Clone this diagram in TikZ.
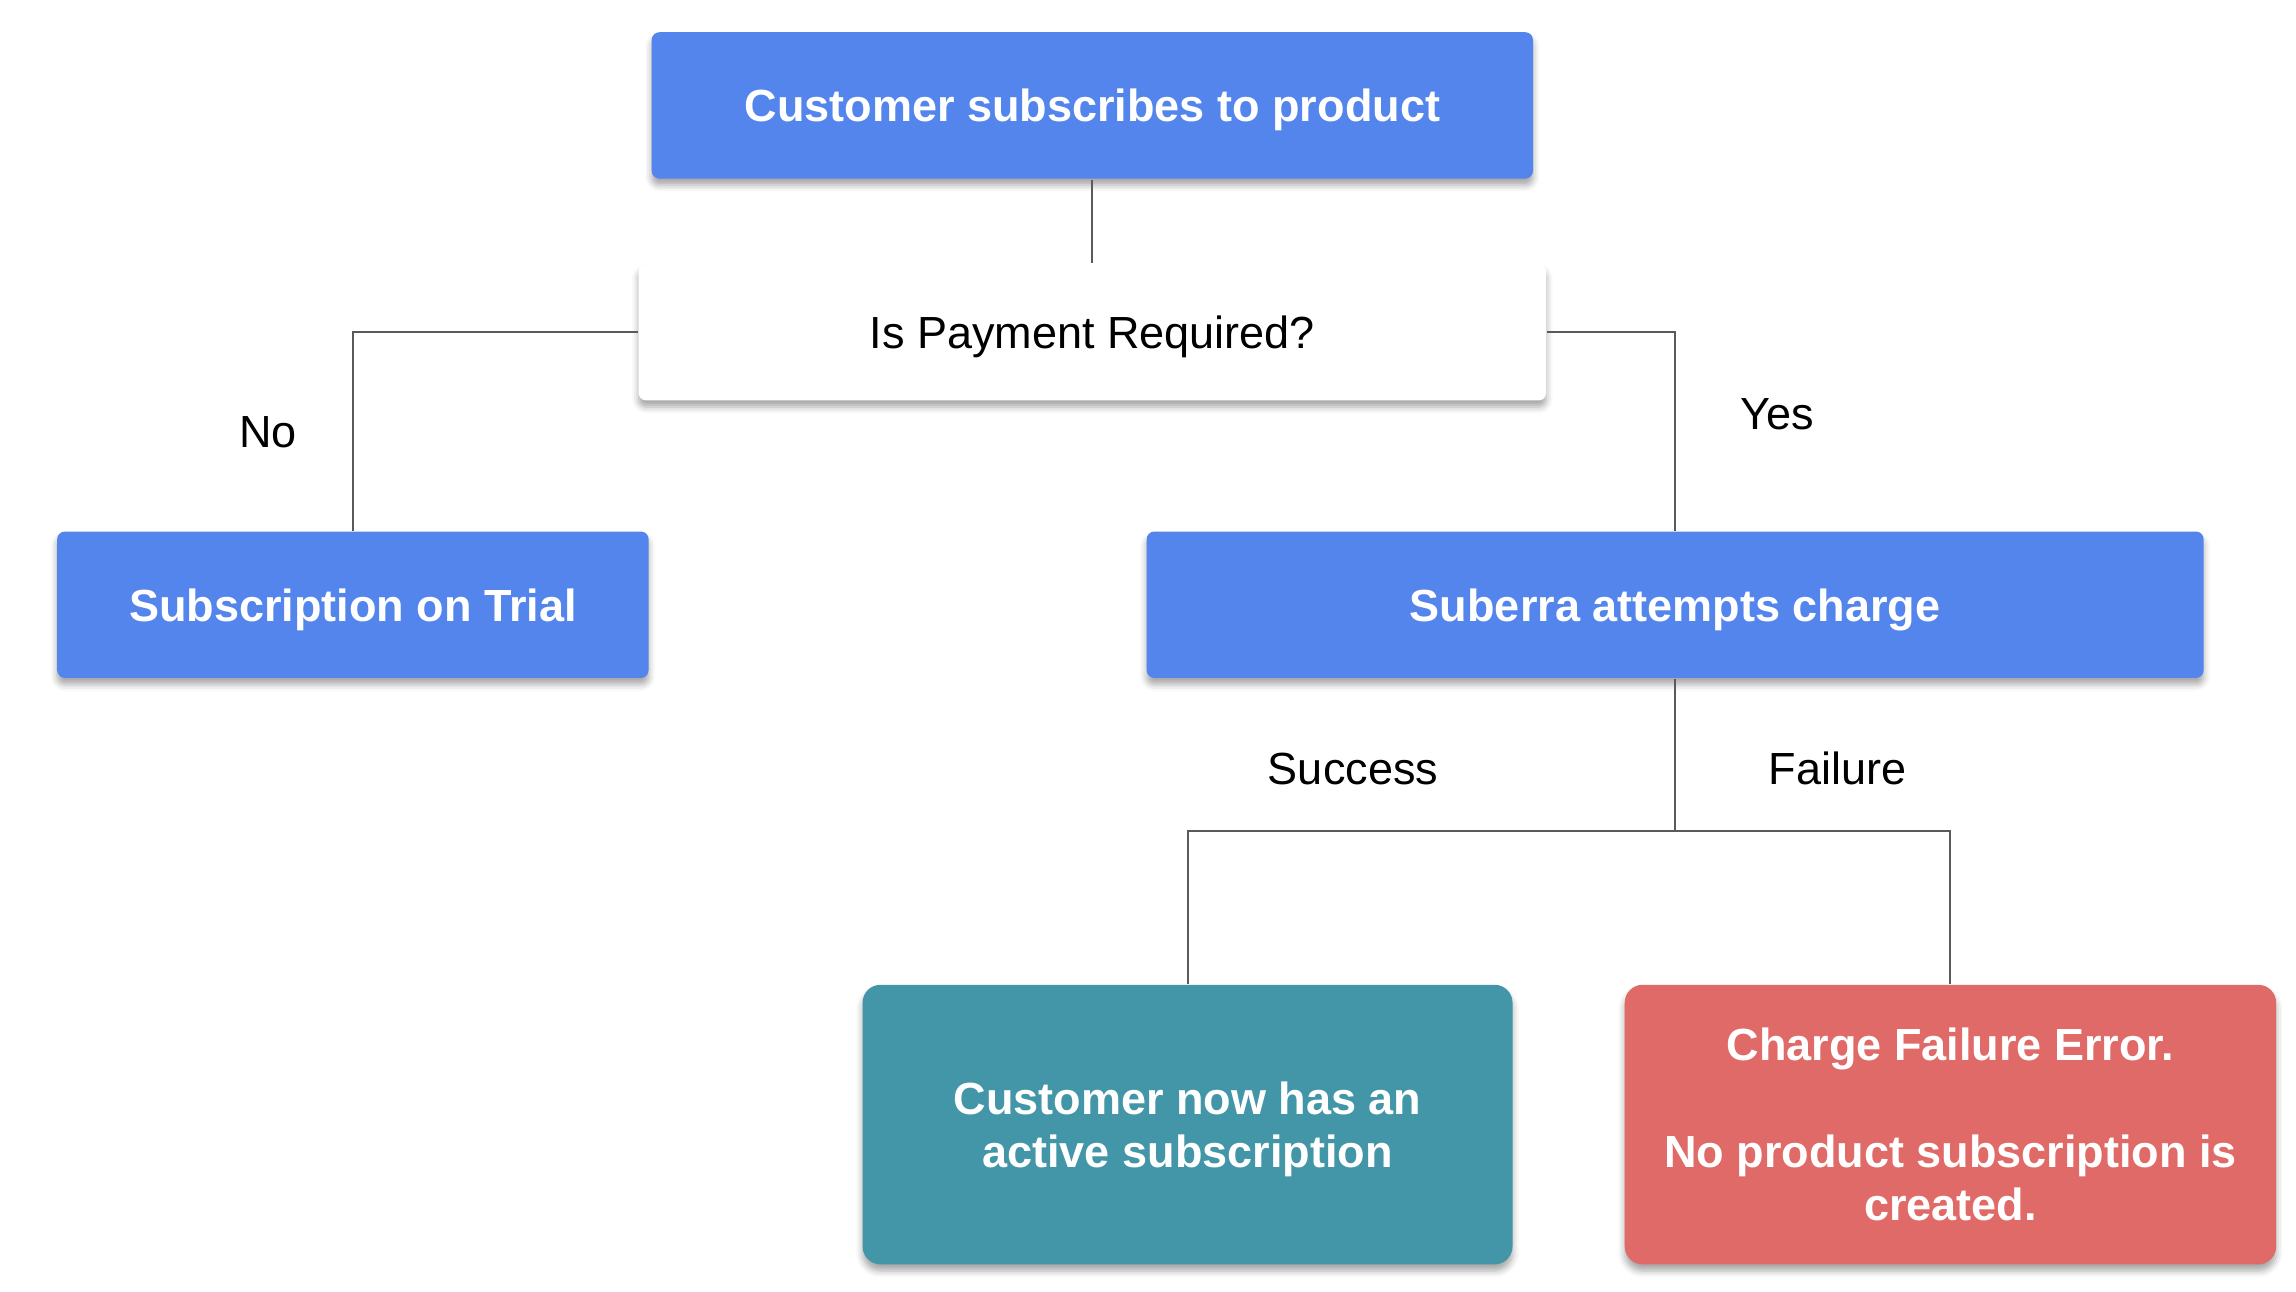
\documentclass[tikz,border=0pt]{standalone}
\usepackage{fontspec}
\setmainfont{Liberation Sans}
\usetikzlibrary{shadows.blur}
\definecolor{boxblue}{HTML}{5385EC}
\definecolor{boxteal}{HTML}{4396A7}
\definecolor{boxred}{HTML}{E06A67}
\definecolor{linegray}{HTML}{5A5A5A}
\tikzset{every path/.style={line width=0.75pt}}
\tikzset{
  card/.style={rounded corners=3pt, inner sep=0pt, align=center,
    font=\fontsize{17.5}{20.7}\selectfont,
    blur shadow={shadow xshift=0pt, shadow yshift=-2.5pt, shadow blur radius=2.5pt, shadow opacity=35}},
  bluecard/.style={card, fill=boxblue, text=white, text depth=0pt, font=\fontsize{17.5}{20.7}\selectfont\bfseries},
  endcard/.style={card, rounded corners=7pt, text=white, font=\fontsize{17.5}{20.7}\selectfont\bfseries},
  lbl/.style={font=\fontsize{17.5}{20.7}\selectfont, inner sep=0pt},
  link/.style={draw=linegray}
}

\begin{document}
\begin{tikzpicture}[x=0.02cm,y=-0.02cm]
\useasboundingbox (0,0) rectangle (1568,882);
\node[bluecard, minimum width=12.04cm, minimum height=2cm] (start) at (746,72) {Customer subscribes to product};
\node[card, fill=white, text depth=0pt, minimum width=12.4cm, minimum height=1.86cm] (ask) at (746,227) {Is Payment Required?};
\node[bluecard, minimum width=8.08cm, minimum height=2cm] (trial) at (241,413) {Subscription on Trial};
\node[bluecard, minimum width=14.44cm, minimum height=2cm] (charge) at (1144,413) {Suberra attempts charge};
\node[endcard, fill=boxteal, text depth=0pt, minimum width=8.88cm, minimum height=3.82cm] (active) at (811,768) {Customer now has an\\active subscription};
\node[endcard, fill=boxred, minimum width=8.9cm, minimum height=3.82cm] (fail) at (1332,768) {Charge Failure Error.\\[20.7pt]No product subscription is\\created.};
%\node at (746,150) {};
\draw[link] (start.south) -- (ask.north);
\draw[link] (ask.west) -| (trial.north);
\draw[link] (ask.east) -| (charge.north);
\draw[link] (charge.south) -- ++(0,104) coordinate (split);
\draw[link] (active.north) |- (split) -| (fail.north);
\node[lbl] (no) at (183,295) {No};
\node[lbl] (yes) at (1214,283) {Yes};
\node[lbl] (ok) at (924,525) {Success};
\node[lbl] (bad) at (1255,525) {Failure};
\end{tikzpicture}
\end{document}
